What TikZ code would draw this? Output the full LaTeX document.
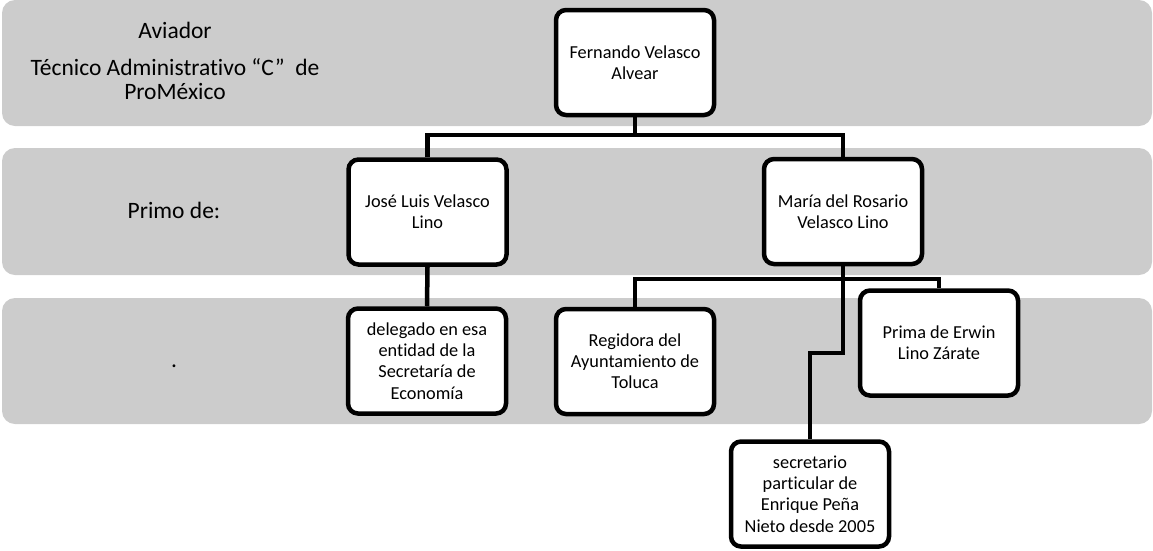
\documentclass[tikz,border=0pt]{standalone}
\usepackage{fontspec}
\setmainfont{Carlito}[Ligatures=NoCommon]
\usepackage{tikz}
\definecolor{BandGray}{HTML}{CCCCCC}
\tikzset{
  band/.style={fill=BandGray, draw=none, rounded corners=13pt},
  person/.style={draw=black, line width=4.5pt, rounded corners=10pt, fill=white,
    minimum width=158pt, minimum height=105pt, align=center, inner sep=2pt,
    font=\fontsize{18.3}{21.2}\selectfont},
  rowlabel/.style={align=center, font=\fontsize{23.5}{23.5}\selectfont},
  link/.style={draw=black, line width=4.5pt}
}

\begin{document}
\begin{tikzpicture}[x=1pt,y=-1pt]
  \useasboundingbox (0,0) rectangle (1153,550);

  % the three grey rows
  \draw[band] (2,0) rectangle (1152,126);
  \draw[band] (2,148) rectangle (1152,275);
  \draw[band] (2,298) rectangle (1152,424);

  \node[rowlabel] (aviador) at (175,30) {Aviador};
  \node[rowlabel] (tecnico) at (175,79) {Técnico Administrativo “C”\ \ de\\ProMéxico};
  \node[rowlabel] (primo) at (174,210) {Primo de:};
  \node[rowlabel] (punto) at (174,366) {.};

  % people and posts
  \node[person] (fer) at (635,62.5) {Fernando Velasco\\Alvear};
  \node[person] (jose) at (427.5,212) {José Luis Velasco\\Lino};
  \node[person] (maria) at (843,211.5) {María del Rosario\\Velasco Lino};
  \node[person] (deleg) at (427,361) {delegado en esa\\entidad de la\\Secretaría de\\Economía};
  \node[person] (regi) at (635,361.5) {Regidora del\\Ayuntamiento de\\Toluca};
  \node[person] (prima) at (939,343) {Prima de Erwin\\Lino Zárate};
  \node[person] (secre) at (810,494) {secretario\\particular de\\Enrique Peña\\Nieto desde 2005};

  \coordinate (bus1) at (0,135);
  \coordinate (bus2) at (0,279);
  \coordinate (jog) at (0,353);

  \draw[link] (fer.south) -- (bus1 -| fer.south);
  \draw[link] (jose.north) |- (bus1 -| fer.south) -| (maria.north);
  \draw[link] (jose.south) -- (deleg.north);
  \draw[link] (regi.north) |- (bus2 -| prima.north) -- (prima.north);
  \draw[link] (maria.south) -- (maria.south |- jog) -| (secre.north);
\end{tikzpicture}
\end{document}
